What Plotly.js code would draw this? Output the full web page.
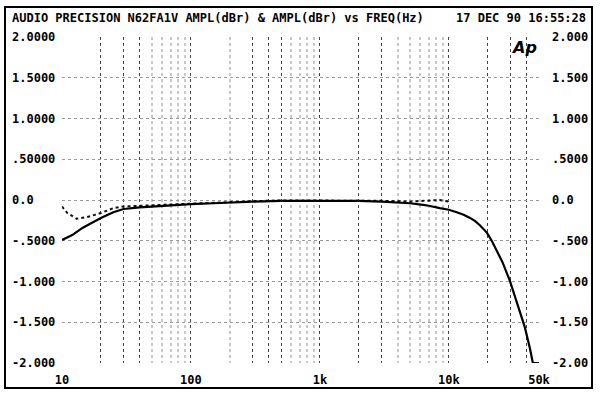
<!DOCTYPE html>
<html>
<head>
<meta charset="utf-8">
<script src="https://cdn.plot.ly/plotly-3.0.1.min.js"></script>
<style>html,body{margin:0;padding:0;background:#fff;}#chart{width:600px;height:401px;}</style>
</head>
<body>
<div id="chart"></div>
<script>
// ---- data ----
const freqSolid = [10,12,14.5,20,25,30,40,50,60,80,100,150,200,300,500,700,1000,1500,2000,3000,4000,5000,6300,7000,8500,10000,11500,13000,14600,16000,17400,19700,21500,24000,26000,29700,33700,38800,42500,44800,47000,50000];
const ampSolid  = [-0.49,-0.43,-0.34,-0.22,-0.15,-0.11,-0.09,-0.08,-0.065,-0.055,-0.05,-0.04,-0.03,-0.02,-0.01,-0.01,-0.01,-0.01,-0.01,-0.02,-0.03,-0.04,-0.06,-0.07,-0.10,-0.12,-0.15,-0.18,-0.22,-0.26,-0.31,-0.40,-0.50,-0.64,-0.76,-0.99,-1.26,-1.56,-1.82,-2.0,-2.0,-2.0];
const freqDash  = [10,11,13,15.6,20,25,30,40,50,60,80,100,150,200,300,500,1000,2000,3000,5000,7000,8500,10000];
const ampDash   = [-0.08,-0.16,-0.23,-0.21,-0.16,-0.10,-0.08,-0.07,-0.065,-0.055,-0.05,-0.045,-0.035,-0.025,-0.015,-0.005,-0.005,-0.005,-0.01,-0.02,-0.01,0.0,-0.02];

const xTickVals  = [10,20,30,40,100,300,400,500,1000,2000,3000,10000,20000,30000,40000,50000];
const xTickText  = ['10','','','','100','','','','1k','','','10k','','','','50k'];
const xMinorVals = [50,60,70,80,90,200,600,700,800,900,4000,5000,6000,7000,8000,9000];
const yTickVals  = [2,1.5,1,0.5,0,-0.5,-1,-1.5,-2];
const yLeftText  = ['2.0000','1.5000','1.0000','.50000','0.0','-.5000','-1.000','-1.500','-2.000'];
const yRightText = ['2.000','1.500','1.000','.5000','0.0','-.500','-1.00','-1.50','-2.00'];
const titleText  = 'AUDIO PRECISION N62FA1V AMPL(dBr) & AMPL(dBr) vs FREQ(Hz)';
const dateText   = '17 DEC 90 16:55:28';

// ---- chart ----
const MONO = 'DejaVu Sans Mono, Liberation Mono, monospace';
const tf = {family: MONO, size: 12, color: '#000'};
const b = s => s ? '<b>' + s + '</b>' : '';

const traces = [
  {x: freqDash, y: ampDash, mode: 'lines', line: {color: '#111', width: 2, dash: '3px,3px'}, hoverinfo: 'skip'},
  {x: freqSolid, y: ampSolid, mode: 'lines', line: {color: '#000', width: 2.2}, hoverinfo: 'skip'}
];

const PL = 62, PR = 539, PT = 37, PB = 363;
const pw = PR - PL, ph = PB - PT;
const px = v => (v - PL) / pw;
const py = v => (PB - v) / ph;

const annotations = yTickVals.map((v, i) => ({
  xref: 'paper', yref: 'y', x: px(10), y: v, xanchor: 'left', yanchor: 'middle',
  text: b(yLeftText[i]), showarrow: false, font: tf
}));
annotations.push({xref: 'paper', yref: 'paper', x: px(588), y: py(18), xanchor: 'right', yanchor: 'middle',
  text: b(dateText), showarrow: false, font: tf});
annotations.push({xref: 'paper', yref: 'paper', x: px(524), y: py(47), xanchor: 'center', yanchor: 'middle',
  text: '<b><i>Ap</i></b>', showarrow: false, font: {family: 'DejaVu Sans, sans-serif', size: 16, color: '#000'}});

const layout = {
  width: 600, height: 401,
  margin: {l: PL, r: 600 - PR, t: PT, b: 401 - PB},
  paper_bgcolor: '#fff', plot_bgcolor: '#fff',
  showlegend: false,
  title: {text: b(titleText), font: tf, x: 12/600, xanchor: 'left', xref: 'container',
          y: 1 - 18/401, yanchor: 'middle', yref: 'container'},
  xaxis: {
    type: 'log', range: [1, Math.log10(50000)], fixedrange: true,
    tickmode: 'array', tickvals: xTickVals, ticktext: xTickText.map(b),
    showgrid: true, gridcolor: '#444', gridwidth: 1, griddash: 'dot',
    minor: {tickmode: 'array', tickvals: xMinorVals, showgrid: true, gridcolor: '#c8c8c8', gridwidth: 2, griddash: 'dot', ticks: ''},
    ticks: '', zeroline: false, showline: false, tickfont: tf, ticklabelstandoff: 8
  },
  yaxis: {
    range: [-2, 2], fixedrange: true, side: 'right',
    tickmode: 'array', tickvals: yTickVals, ticktext: yRightText.map(b),
    showgrid: true, gridcolor: '#999', gridwidth: 1, griddash: 'dot',
    ticks: '', zeroline: false, showline: false, tickfont: tf, ticklabelstandoff: 12
  },
  shapes: [{type: 'rect', xref: 'paper', yref: 'paper', x0: px(5), x1: px(592), y0: py(388), y1: py(7),
            line: {color: '#000', width: 2}, fillcolor: 'rgba(0,0,0,0)'}],
  annotations: annotations
};

Plotly.newPlot('chart', traces, layout, {displayModeBar: false, staticPlot: true});
</script>
</body>
</html>
